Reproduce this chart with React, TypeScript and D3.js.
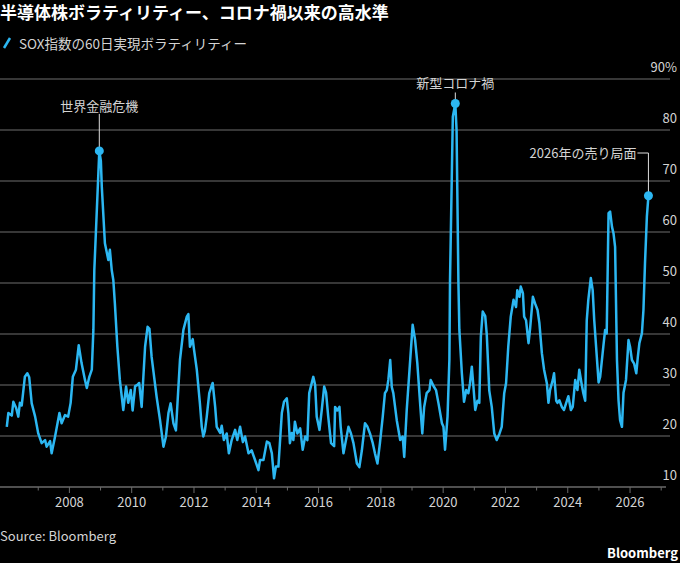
import * as d3 from "d3"

// SOX 60-day realized volatility (%)
const times = [
  2005.99, 2006.04, 2006.15, 2006.2, 2006.29, 2006.36, 2006.41, 2006.47, 2006.57, 2006.65,
  2006.71, 2006.79, 2006.9, 2007.0, 2007.11, 2007.22, 2007.27, 2007.38, 2007.43, 2007.54,
  2007.68, 2007.75, 2007.86, 2007.96, 2008.04, 2008.11, 2008.21, 2008.3, 2008.39, 2008.5,
  2008.56, 2008.64, 2008.72, 2008.77, 2008.8, 2008.96, 2009.01, 2009.04, 2009.14, 2009.25,
  2009.3, 2009.36, 2009.41, 2009.46, 2009.54, 2009.62, 2009.73, 2009.82, 2009.89, 2009.97,
  2010.03, 2010.11, 2010.18, 2010.24, 2010.32, 2010.43, 2010.51, 2010.57, 2010.64, 2010.8,
  2010.91, 2011.02, 2011.1, 2011.18, 2011.25, 2011.34, 2011.42, 2011.55, 2011.66, 2011.77,
  2011.82, 2011.87, 2011.96, 2012.0, 2012.09, 2012.19, 2012.25, 2012.3, 2012.35, 2012.41,
  2012.49, 2012.6, 2012.68, 2012.73, 2012.84, 2012.89, 2012.96, 2013.05, 2013.12, 2013.21,
  2013.32, 2013.39, 2013.48, 2013.57, 2013.64, 2013.75, 2013.85, 2013.96, 2014.07, 2014.12,
  2014.23, 2014.34, 2014.42, 2014.5, 2014.57, 2014.63, 2014.71, 2014.82, 2014.89, 2014.98,
  2015.03, 2015.08, 2015.14, 2015.19, 2015.24, 2015.32, 2015.41, 2015.49, 2015.57, 2015.64,
  2015.7, 2015.83, 2015.89, 2015.94, 2016.03, 2016.1, 2016.18, 2016.24, 2016.31, 2016.4,
  2016.5, 2016.53, 2016.6, 2016.67, 2016.71, 2016.8, 2016.88, 2016.96, 2017.04, 2017.12,
  2017.23, 2017.31, 2017.39, 2017.49, 2017.57, 2017.65, 2017.74, 2017.81, 2017.89, 2017.97,
  2018.06, 2018.13, 2018.19, 2018.24, 2018.3, 2018.35, 2018.4, 2018.51, 2018.62, 2018.7,
  2018.75, 2018.83, 2018.92, 2019.02, 2019.1, 2019.17, 2019.26, 2019.33, 2019.39, 2019.47,
  2019.56, 2019.6, 2019.69, 2019.77, 2019.85, 2019.96, 2020.01, 2020.06, 2020.14, 2020.2,
  2020.22, 2020.31, 2020.39, 2020.43, 2020.49, 2020.52, 2020.6, 2020.67, 2020.74, 2020.81,
  2020.86, 2020.92, 2020.97, 2021.03, 2021.1, 2021.16, 2021.21, 2021.27, 2021.35, 2021.4,
  2021.48, 2021.56, 2021.64, 2021.72, 2021.81, 2021.88, 2021.96, 2022.02, 2022.09, 2022.17,
  2022.26, 2022.34, 2022.38, 2022.45, 2022.49, 2022.56, 2022.6, 2022.66, 2022.74, 2022.79,
  2022.88, 2022.95, 2023.03, 2023.09, 2023.17, 2023.24, 2023.33, 2023.38, 2023.43, 2023.52,
  2023.56, 2023.63, 2023.67, 2023.73, 2023.81, 2023.88, 2023.95, 2024.02, 2024.1, 2024.16,
  2024.24, 2024.31, 2024.37, 2024.44, 2024.5, 2024.56, 2024.61, 2024.66, 2024.74, 2024.8,
  2024.85, 2024.91, 2024.99, 2025.04, 2025.09, 2025.15, 2025.2, 2025.25, 2025.31, 2025.36,
  2025.42, 2025.47, 2025.52, 2025.58, 2025.63, 2025.68, 2025.74, 2025.79, 2025.87, 2025.95,
  2026.0, 2026.06, 2026.13, 2026.2, 2026.25, 2026.3, 2026.38, 2026.43, 2026.48, 2026.54,
  2026.59,
]

const vols = [
  21.8, 24.5, 24.0, 26.7, 25.5, 23.8, 26.5, 26.0, 31.6, 32.3,
  31.5, 26.4, 23.8, 20.5, 18.6, 19.2, 17.9, 19.0, 16.6, 19.9,
  24.5, 22.5, 24.1, 23.8, 26.5, 31.6, 33.0, 37.8, 34.3, 31.0,
  29.4, 31.6, 33.0, 40.8, 52.5, 75.9, 74.0, 68.9, 57.8, 54.5,
  56.5, 52.5, 50.6, 46.0, 37.5, 31.0, 25.1, 29.7, 26.5, 29.0,
  25.0, 29.8, 30.0, 30.4, 25.7, 37.5, 41.4, 41.0, 35.5, 27.7,
  23.1, 17.9, 19.9, 24.5, 26.4, 22.5, 21.1, 34.9, 40.8, 43.4,
  43.9, 37.5, 39.0, 37.0, 33.0, 26.4, 21.8, 19.9, 21.0, 23.8,
  28.4, 30.4, 25.7, 21.8, 20.6, 22.0, 19.2, 20.5, 16.6, 19.2,
  21.2, 19.2, 21.8, 18.8, 19.9, 16.6, 17.2, 15.3, 13.3, 15.3,
  15.3, 18.9, 18.6, 16.6, 11.7, 14.0, 14.0, 24.5, 26.7, 27.4,
  24.5, 18.6, 20.6, 19.2, 22.8, 20.5, 21.5, 17.3, 19.9, 19.2,
  28.4, 31.6, 30.0, 23.8, 21.2, 25.0, 29.7, 28.5, 23.8, 18.6,
  18.0, 25.7, 25.0, 25.7, 21.8, 16.6, 19.2, 21.8, 20.5, 18.6,
  14.6, 13.9, 17.2, 22.5, 21.8, 20.5, 18.6, 16.6, 14.6, 18.6,
  23.8, 28.4, 29.0, 31.0, 34.9, 29.6, 28.4, 23.1, 19.2, 19.9,
  15.9, 25.1, 33.0, 41.8, 38.8, 34.3, 26.4, 20.5, 25.7, 28.4,
  29.0, 31.0, 29.8, 29.0, 26.4, 22.5, 21.8, 17.3, 23.8, 35.0,
  50.6, 82.6, 85.2, 80.0, 50.0, 40.8, 32.3, 26.7, 29.0, 28.4,
  30.3, 33.6, 29.8, 25.1, 26.9, 26.5, 39.5, 44.4, 43.5, 39.9,
  28.9, 25.7, 20.5, 19.2, 20.5, 21.8, 28.4, 30.4, 37.5, 43.4,
  46.7, 45.3, 48.6, 47.3, 49.3, 48.0, 43.4, 42.7, 38.2, 41.0,
  47.3, 46.0, 44.7, 42.1, 36.2, 33.0, 30.3, 26.5, 29.0, 31.0,
  32.3, 26.9, 26.5, 27.0, 25.7, 25.1, 26.5, 27.8, 25.1, 25.7,
  31.0, 29.0, 33.0, 30.4, 28.4, 26.9, 42.7, 46.7, 51.0, 48.6,
  42.7, 37.5, 30.5, 31.6, 34.5, 38.0, 40.8, 40.1, 63.7, 64.0,
  61.0, 59.7, 57.1, 34.9, 27.0, 23.1, 21.8, 28.5, 31.0, 38.8,
  37.5, 34.9, 34.2, 32.3, 35.5, 38.2, 40.1, 44.7, 53.9, 63.0,
  67.1,
]

const yTicks = [10, 20, 30, 40, 50, 60, 70, 80, 90]
const yearTicks = d3.range(2007, 2028)
const yearLabels = [2008, 2010, 2012, 2014, 2016, 2018, 2020, 2022, 2024, 2026]

const annotations = [
  { label: "世界金融危機", t: 2008.96, v: 75.9 },
  { label: "新型コロナ禍", t: 2020.39, v: 85.2 },
]
const lastLabel = "2026年の売り局面"

const title = "半導体株ボラティリティー、コロナ禍以来の高水準"
const legendLabel = "SOX指数の60日実現ボラティリティー"

const W = 680
const H = 563
const FONT = "'Noto Sans CJK JP', 'Noto Sans', sans-serif"
const LINE = "#2cb7f2"
const TEXT = "#d4d4d4"

export default function App() {
  const x = d3.scaleLinear().domain([2006, 2027]).range([7.1, 661.2])
  const y = d3.scaleLinear().domain([10, 90]).range([487, 79])

  const data = times.map((t, i) => ({ t, v: vols[i] }))
  const line = d3
    .line<{ t: number; v: number }>()
    .x((d) => x(d.t))
    .y((d) => y(d.v))

  const last = data[data.length - 1]

  return (
    <>
      <style>{`body{margin:0;background:#000}`}</style>
      <svg width={W} height={H} style={{ display: "block", background: "#000", fontFamily: FONT }}>
        <text x={0} y={18.5} fill="#fff" fontSize={17} fontWeight="bold">
          {title}
        </text>

        {/* legend */}
        <line x1={4} y1={48} x2={10} y2={38} stroke={LINE} strokeWidth={2.5} />
        <text x={19} y={49} fill={TEXT} fontSize={13.5}>
          {legendLabel}
        </text>

        {/* grid + y labels */}
        {yTicks.map((v) => (
          <g key={v}>
            {v > 10 && <line x1={0} x2={670} y1={y(v)} y2={y(v)} stroke="#4a4a4a" strokeWidth={1.3} />}
            <text x={677} y={y(v) - 7} fill={TEXT} fontSize={13} textAnchor="end">
              {v === 90 ? "90%" : v}
            </text>
          </g>
        ))}

        {/* x axis */}
        <line x1={0} x2={666} y1={y(10)} y2={y(10)} stroke="#6a6a6a" strokeWidth={1.3} />
        {yearTicks.map((yr) => (
          <line
            key={yr}
            x1={x(yr)}
            x2={x(yr)}
            y1={y(10)}
            y2={y(10) + (yr % 2 === 0 ? 6 : 3.5)}
            stroke="#6a6a6a"
            strokeWidth={1}
          />
        ))}
        {yearLabels.map((yr) => (
          <text key={yr} x={x(yr)} y={507} fill={TEXT} fontSize={13} textAnchor="middle">
            {yr}
          </text>
        ))}

        {/* series */}
        <path d={line(data) ?? ""} fill="none" stroke={LINE} strokeWidth={2.5} strokeLinejoin="round" />

        {/* annotations */}
        {annotations.map((a) => (
          <g key={a.label}>
            <line x1={x(a.t)} x2={x(a.t)} y1={y(a.v) - 37 + (a.v > 80 ? 26 : 0)} y2={y(a.v)} stroke="#ddd" strokeWidth={1} />
            <text
              x={x(a.t)}
              y={y(a.v) - (a.v > 80 ? 15 : 40)}
              fill={TEXT}
              fontSize={13}
              textAnchor="middle"
            >
              {a.label}
            </text>
            <circle cx={x(a.t)} cy={y(a.v)} r={4.5} fill={LINE} />
          </g>
        ))}
        <polyline
          points={`${x(last.t) - 11},153 ${x(last.t)},153 ${x(last.t)},${y(last.v)}`}
          fill="none"
          stroke="#ddd"
          strokeWidth={1}
        />
        <text x={x(last.t) - 12} y={158} fill={TEXT} fontSize={13} textAnchor="end">
          {lastLabel}
        </text>
        <circle cx={x(last.t)} cy={y(last.v)} r={4.5} fill={LINE} />

        {/* footer */}
        <text x={0} y={541} fill={TEXT} fontSize={13}>
          Source: Bloomberg
        </text>
        <text x={678} y={558} fill="#fff" fontSize={13} fontWeight="bold" textAnchor="end">
          Bloomberg
        </text>
      </svg>
    </>
  )
}
